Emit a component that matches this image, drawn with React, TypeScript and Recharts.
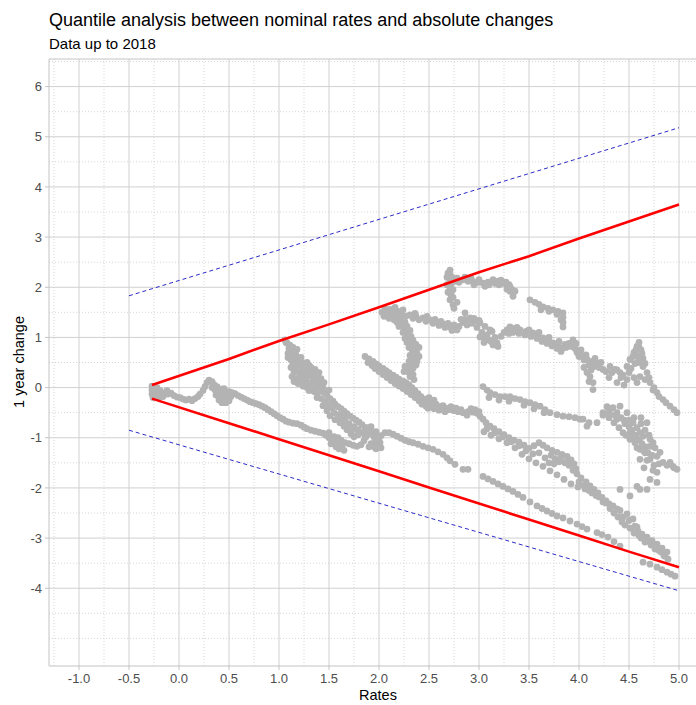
import React from 'react';
import {
  ScatterChart,
  Scatter,
  XAxis,
  YAxis,
  ReferenceLine,
} from 'recharts';

const POINT = '#B3B3B3';
const RED = '#FF0000';
const BLUE = '#2B2BC8';
const GRID = '#D0D0D0';
const MINOR = '#D6D6D6';
const BORDER = '#C4C4C4';
const TICK_TEXT = '#4D4D4D';
const FONT = '"Liberation Sans", Arial, sans-serif';

const xMajor = [-1.0, -0.5, 0.0, 0.5, 1.0, 1.5, 2.0, 2.5, 3.0, 3.5, 4.0, 4.5, 5.0];
const xMinor = [-1.25, -0.75, -0.25, 0.25, 0.75, 1.25, 1.75, 2.25, 2.75, 3.25, 3.75, 4.25, 4.75];
const yMajor = [-4, -3, -2, -1, 0, 1, 2, 3, 4, 5, 6];
const yMinor = [-5, -4.5, -3.5, -2.5, -1.5, -0.5, 0.5, 1.5, 2.5, 3.5, 4.5, 5.5, 6.5];

// quantile lines
const upperQuantile: [number, number][] = [
  [-0.27, 0.05], [0.5, 0.57], [1.0, 0.93], [1.5, 1.26], [2.0, 1.6], [2.5, 1.95],
  [3.0, 2.3], [3.5, 2.62], [4.0, 2.97], [4.5, 3.31], [5.0, 3.65],
];
const lowerQuantile: [number, number][] = [
  [-0.27, -0.22], [0.5, -0.71], [1.0, -1.03], [1.5, -1.35], [2.0, -1.67], [2.5, -1.99],
  [3.0, -2.31], [3.5, -2.63], [4.0, -2.95], [4.5, -3.27], [5.0, -3.58],
];
const upperBand: [number, number][] = [[-0.5, 1.83], [5.0, 5.18]];
const lowerBand: [number, number][] = [[-0.5, -0.85], [5.0, -4.05]];

const originTrail: [number, number][] = [
  [-0.27, 0.03], [-0.27, -0.05], [-0.27, -0.13], [-0.26, -0.2], [-0.24, -0.02], [-0.23, -0.1],
  [-0.21, -0.16], [-0.19, -0.06], [-0.17, -0.12], [-0.14, -0.1], [-0.11, -0.13], [-0.08, -0.11],
  [-0.05, -0.16], [-0.02, -0.19], [0.01, -0.2], [0.04, -0.23], [0.07, -0.25], [0.1, -0.23],
  [0.13, -0.26], [0.16, -0.22], [0.19, -0.18], [0.21, -0.13], [0.24, -0.06], [0.26, 0.02],
  [0.28, 0.1], [0.3, 0.15], [0.33, 0.12], [0.35, 0.06], [0.38, 0.02], [0.36, -0.05],
  [0.39, -0.1], [0.42, -0.03], [0.41, -0.17], [0.44, -0.12], [0.44, -0.24], [0.47, -0.2],
  [0.47, -0.3], [0.5, -0.26], [0.46, -0.07], [0.5, -0.08], [0.53, -0.1], [0.56, -0.12],
  [0.59, -0.16], [0.62, -0.19], [0.65, -0.22], [0.68, -0.25], [0.71, -0.28], [0.74, -0.3],
  [0.77, -0.32], [0.8, -0.34], [0.83, -0.37], [0.86, -0.4], [0.89, -0.44], [0.92, -0.48],
  [0.95, -0.52], [0.98, -0.56], [1.01, -0.6], [1.04, -0.63], [1.07, -0.67], [1.1, -0.69],
  [1.14, -0.71], [1.18, -0.72], [1.22, -0.75], [1.25, -0.79], [1.28, -0.82], [1.32, -0.85],
  [1.36, -0.87], [1.4, -0.89], [1.44, -0.91], [1.47, -0.95], [1.5, -1.0], [1.53, -1.05],
  [1.56, -1.1], [1.59, -1.15], [1.63, -1.18], [1.55, -0.98], [1.59, -1.0], [1.62, -1.05],
  [1.66, -1.1], [1.7, -1.12], [1.74, -1.15], [1.78, -1.17], [1.82, -1.14], [1.85, -1.06],
  [1.87, -0.98], [1.89, -0.9], [1.92, -0.85], [1.94, -0.93], [1.96, -1.02], [1.98, -1.1],
  [2.0, -1.17], [1.92, -1.12], [1.95, -1.18], [2.02, -0.96], [2.06, -0.9], [2.1, -0.9],
  [2.14, -0.93], [2.18, -0.97], [2.22, -1.01], [2.26, -1.05], [2.3, -1.08],
  [0.4, -0.25], [0.43, -0.3], [0.37, -0.15], [0.45, -0.02], [0.48, -0.14], [0.52, -0.18],
  [0.33, 0.0], [-0.22, 0.0], [-0.2, -0.2], [-0.16, -0.18], [-0.12, -0.06],
  [1.5, -0.9], [1.55, -1.05], [1.6, -1.22], [1.65, -1.25], [1.57, -1.18], [1.52, -1.12],
  [1.88, -0.8], [1.92, -0.78], [1.97, -0.88], [2.0, -1.0], [2.02, -1.2], [1.97, -1.22],
  [1.9, -1.18],
];

const steepTrail: [number, number][] = [
  [1.06, 0.95], [1.08, 0.89], [1.11, 0.84], [1.14, 0.8], [1.18, 0.76], [1.12, 0.74],
  [1.09, 0.68], [1.09, 0.6], [1.12, 0.55], [1.16, 0.58], [1.2, 0.5], [1.18, 0.44],
  [1.23, 0.42], [1.27, 0.38], [1.31, 0.35], [1.35, 0.3], [1.38, 0.24], [1.34, 0.2],
  [1.3, 0.24], [1.26, 0.28], [1.22, 0.33], [1.15, 0.3], [1.13, 0.22], [1.15, 0.12],
  [1.19, 0.08], [1.22, 0.14], [1.24, 0.03], [1.28, 0.06], [1.27, 0.15], [1.32, 0.1],
  [1.33, -0.02], [1.37, 0.02], [1.41, 0.04], [1.42, -0.06], [1.45, -0.1], [1.48, -0.16],
  [1.51, -0.22], [1.54, -0.27], [1.56, -0.33], [1.59, -0.38], [1.62, -0.42], [1.65, -0.47],
  [1.68, -0.52], [1.71, -0.57], [1.74, -0.61], [1.77, -0.65], [1.8, -0.69], [1.83, -0.74],
  [1.86, -0.8], [1.89, -0.86], [1.92, -0.92], [1.95, -0.98], [1.98, -1.04], [2.01, -1.1],
  [1.44, -0.36], [1.48, -0.46], [1.51, -0.56], [1.56, -0.64], [1.61, -0.7], [1.65, -0.77],
  [1.68, -0.84], [1.72, -0.92], [1.75, -0.98],
  [1.07, 0.9], [1.1, 0.78], [1.15, 0.7], [1.13, 0.64], [1.17, 0.64], [1.14, 0.48],
  [1.2, 0.56], [1.24, 0.48], [1.26, 0.4], [1.3, 0.44], [1.33, 0.3], [1.21, 0.24],
  [1.25, 0.2], [1.18, 0.18], [1.2, 0.12], [1.28, 0.0], [1.3, -0.06], [1.35, -0.08],
  [1.39, -0.1], [1.38, -0.2], [1.42, -0.22], [1.46, -0.28], [1.49, -0.35], [1.53, -0.4],
  [1.55, -0.5], [1.59, -0.54], [1.62, -0.6], [1.66, -0.65], [1.7, -0.72], [1.75, -0.78],
  [1.79, -0.84], [1.83, -0.9], [1.86, -0.95], [1.79, -0.94], [1.73, -0.85], [1.64, -0.55],
  [1.1, 0.85], [1.16, 0.68], [1.22, 0.6], [1.28, 0.5], [1.32, 0.4], [1.36, 0.36],
  [1.4, 0.3], [1.42, 0.18], [1.45, 0.1], [1.4, 0.12], [1.36, 0.14], [1.24, 0.26],
  [1.18, 0.32], [1.12, 0.4], [1.16, 0.38], [1.44, 0.0], [1.5, -0.05],
];

const verticalTrail: [number, number][] = [
  [2.03, 1.5], [2.07, 1.53], [2.11, 1.56], [2.15, 1.55], [2.19, 1.52], [2.23, 1.48],
  [2.08, 1.45], [2.13, 1.45], [2.17, 1.42], [2.2, 1.36], [2.22, 1.28], [2.25, 1.2],
  [2.27, 1.12], [2.29, 1.04], [2.3, 0.96], [2.31, 0.88], [2.34, 0.82], [2.37, 0.76],
  [2.34, 0.7], [2.31, 0.64], [2.33, 0.57], [2.34, 0.5], [2.31, 0.44], [2.28, 0.37],
  [2.3, 0.3], [2.31, 0.22], [2.35, 0.16],
  [2.05, 1.42], [2.1, 1.38], [2.15, 1.35], [2.18, 1.3], [2.12, 1.5], [2.22, 1.4],
  [2.26, 1.3], [2.28, 1.22], [2.31, 1.14], [2.32, 1.02], [2.34, 0.94], [2.37, 0.86],
  [2.4, 0.8], [2.38, 0.68], [2.36, 0.6], [2.37, 0.45], [2.34, 0.38], [2.26, 0.42],
  [2.25, 0.32], [2.34, 0.26],
  [2.06, 1.57], [2.16, 1.6], [2.24, 1.55], [2.27, 1.42], [2.2, 1.22], [2.24, 1.1],
  [2.26, 0.98], [2.28, 0.9], [2.3, 0.8], [2.33, 0.76], [2.3, 0.52], [2.38, 0.52],
  [2.4, 0.62],
];

const middleTrail: [number, number][] = [
  [1.86, 0.62], [1.9, 0.57], [1.94, 0.52], [1.97, 0.47], [2.0, 0.43], [2.04, 0.38],
  [2.07, 0.34], [2.1, 0.3], [2.14, 0.25], [2.17, 0.21], [2.2, 0.17], [2.24, 0.13],
  [2.27, 0.1], [2.3, 0.06], [2.33, 0.0], [2.36, -0.06], [2.39, -0.12], [2.42, -0.18],
  [2.46, -0.23], [1.96, 0.38], [2.0, 0.32], [2.04, 0.26], [2.08, 0.2], [2.12, 0.14],
  [2.16, 0.08], [2.2, 0.03], [2.24, -0.02], [2.28, -0.08], [2.32, -0.14], [2.36, -0.2],
  [2.4, -0.26], [2.43, -0.33], [2.47, -0.37], [2.5, -0.3], [2.53, -0.36], [2.57, -0.33],
  [2.6, -0.38], [2.64, -0.36], [2.67, -0.41], [2.71, -0.44], [2.75, -0.46], [2.79, -0.48],
  [2.84, -0.5], [2.89, -0.48], [2.94, -0.49], [2.98, -0.51], [3.01, -0.57], [3.04, -0.63],
  [3.07, -0.7], [3.11, -0.77], [3.15, -0.82], [3.2, -0.88], [3.25, -0.94], [3.3, -1.0],
  [3.35, -1.05], [3.4, -1.09], [3.45, -1.15], [3.5, -1.21], [3.55, -1.16], [3.6, -1.1],
  [3.64, -1.15], [3.68, -1.2], [3.73, -1.25], [3.78, -1.29], [3.83, -1.33], [3.88, -1.37],
  [3.92, -1.44], [3.95, -1.52], [3.97, -1.62], [3.98, -1.72], [4.02, -1.8], [4.07, -1.88],
  [4.11, -1.96], [4.15, -2.03], [4.19, -2.1], [4.23, -2.19], [4.27, -2.3], [4.31, -2.41],
  [4.35, -2.5], [4.39, -2.58], [4.43, -2.68], [4.46, -2.74],
  [3.72, -1.35], [3.76, -1.42], [3.8, -1.48], [3.86, -1.5], [3.9, -1.55], [3.75, -1.52],
  [1.89, 0.5], [1.93, 0.44], [1.99, 0.37], [2.03, 0.32], [2.06, 0.28], [2.1, 0.22],
  [2.14, 0.18], [2.18, 0.12], [2.22, 0.07], [2.26, 0.03], [2.3, -0.02], [2.34, -0.08],
  [2.38, -0.15], [2.41, -0.22], [2.45, -0.3], [2.49, -0.41], [2.55, -0.42], [2.6, -0.45],
  [2.66, -0.48], [2.72, -0.38], [2.77, -0.41], [2.82, -0.44], [2.88, -0.55], [2.92, -0.42],
  [2.96, -0.44], [3.0, -0.48], [2.5, -0.2], [2.55, -0.25],
  [3.08, -0.82], [3.16, -0.9], [3.24, -0.98], [3.32, -1.08], [3.4, -1.16], [3.47, -1.26],
  [3.54, -1.32], [3.6, -1.3], [3.66, -1.4], [3.7, -1.5], [3.82, -1.4], [3.88, -1.48],
  [3.94, -1.65], [4.0, -1.88], [4.05, -1.95], [4.1, -2.05], [4.17, -2.15], [4.24, -2.28],
  [4.3, -2.32], [4.38, -2.42], [4.44, -2.58], [4.5, -2.65], [4.52, -2.8], [4.58, -2.78],
  [4.62, -3.0], [4.66, -3.08], [4.72, -3.14], [4.76, -3.22], [4.82, -3.28], [4.86, -3.36],
];

const secondRow: [number, number][] = [
  [3.05, -0.88], [3.12, -0.95], [3.2, -1.02], [3.28, -1.1], [3.36, -1.2], [3.43, -1.33],
  [3.5, -1.42], [3.57, -1.5], [3.64, -1.57], [3.71, -1.66], [3.78, -1.74], [3.85, -1.83],
  [3.92, -1.92], [3.99, -1.98], [4.06, -2.02], [4.13, -2.1], [4.2, -2.18], [4.27, -2.26],
  [4.34, -2.36], [4.41, -2.45], [4.48, -2.52], [4.54, -2.62], [4.56, -2.76], [4.59, -2.86],
  [4.63, -2.92], [4.68, -2.98], [4.73, -3.05], [4.78, -3.12], [4.83, -3.2], [4.88, -3.28],
];

const upperMidTrail: [number, number][] = [
  [2.31, 1.45], [2.37, 1.42], [2.44, 1.39], [2.51, 1.35], [2.58, 1.31], [2.64, 1.27],
  [2.71, 1.21], [2.78, 1.15], [2.84, 1.3], [2.91, 1.39], [2.96, 1.33], [3.01, 1.29],
  [3.06, 1.22], [3.11, 1.15], [3.01, 1.01], [3.06, 0.98], [3.1, 0.95], [3.14, 0.85],
  [3.18, 0.89], [3.19, 0.82], [3.25, 1.1], [3.31, 1.21], [3.36, 1.18], [3.41, 1.15],
  [3.47, 1.12], [3.54, 1.09], [3.59, 1.04], [3.64, 0.99], [3.69, 0.94], [3.74, 0.89],
  [3.79, 0.84], [3.84, 0.79], [3.9, 0.88], [3.94, 0.95], [3.98, 0.7], [4.03, 0.63],
  [4.08, 0.56], [4.13, 0.52], [4.18, 0.49], [4.11, 0.22], [4.12, 0.35], [4.14, -0.04],
  [4.14, 0.1], [4.24, 0.36], [4.31, 0.42], [4.36, 0.36], [4.41, 0.3], [4.51, 0.56],
  [4.55, 0.7], [4.58, 0.82], [4.6, 0.9], [4.61, 0.62], [4.64, 0.42], [4.68, 0.3],
  [4.38, 0.1], [4.48, 0.16], [4.55, 0.2], [4.61, 0.22], [4.66, 0.16], [4.71, 0.1],
  [4.75, 0.0], [4.78, -0.1], [4.84, -0.24], [4.91, -0.37], [4.98, -0.5], [4.95, -0.44],
  [2.34, 1.38], [2.4, 1.35], [2.47, 1.32], [2.54, 1.28], [2.6, 1.24], [2.66, 1.2],
  [2.73, 1.14], [2.8, 1.22], [2.86, 1.36], [2.88, 1.25], [2.93, 1.28], [2.98, 1.2],
  [3.03, 1.1], [3.08, 1.05], [3.05, 0.9], [3.22, 1.02], [3.28, 1.15], [3.34, 1.1],
  [3.4, 1.08], [3.46, 1.05], [3.52, 1.02], [3.58, 0.98], [3.63, 0.92], [3.68, 0.88],
  [3.73, 0.83], [3.78, 0.78], [3.82, 0.72], [3.87, 0.8], [3.92, 0.82], [3.96, 0.78],
  [4.0, 0.62], [4.05, 0.55], [4.1, 0.45], [4.15, 0.42], [4.08, 0.3], [4.1, 0.12],
  [4.2, 0.4], [4.27, 0.32], [4.33, 0.3], [4.44, 0.25], [4.48, 0.42], [4.52, 0.38],
  [4.56, 0.48], [4.58, 0.62], [4.62, 0.75], [4.64, 0.58], [4.66, 0.48], [4.7, 0.2],
  [4.58, 0.1], [4.45, 0.05], [4.42, 0.2], [4.74, -0.05], [4.8, -0.18], [4.87, -0.3],
  [2.36, 1.48], [2.48, 1.42], [2.56, 1.36], [2.62, 1.32], [2.69, 1.28], [2.75, 1.25],
  [2.82, 1.36], [2.9, 1.32], [2.95, 1.38], [3.0, 1.34], [3.13, 1.12], [3.16, 1.0],
  [3.12, 0.92], [3.3, 1.08], [3.38, 1.2], [3.5, 1.15], [3.6, 1.1], [3.7, 1.0],
  [3.8, 0.92], [3.86, 0.86], [3.97, 0.88], [4.02, 0.75], [4.07, 0.65], [4.16, 0.58],
  [4.22, 0.5], [4.05, 0.4], [4.6, 0.8], [4.63, 0.68], [4.57, 0.75], [4.54, 0.62],
  [4.6, 0.5], [4.5, 0.3], [4.38, 0.35], [4.3, 0.2],
];

const topTrail: [number, number][] = [
  [2.71, 2.34], [2.71, 2.25], [2.71, 2.15], [2.72, 2.05], [2.71, 1.95], [2.72, 1.85],
  [2.71, 1.75], [2.74, 1.65], [2.75, 1.58], [2.78, 2.18], [2.84, 2.15], [2.89, 2.12],
  [2.94, 2.11], [2.99, 2.1], [3.04, 2.08], [3.09, 2.1], [3.14, 2.15], [3.19, 2.12],
  [3.24, 2.08], [3.28, 2.04], [3.31, 2.01], [3.33, 1.95], [3.34, 1.89], [3.51, 1.75],
  [3.56, 1.7], [3.6, 1.66], [3.64, 1.61], [3.69, 1.58], [3.74, 1.55], [3.79, 1.52],
  [3.84, 1.49], [3.84, 1.4], [3.84, 1.3], [3.84, 1.21], [2.86, 1.49],
  [2.69, 2.28], [2.73, 2.2], [2.76, 2.12], [2.8, 2.1], [2.95, 2.05], [3.1, 2.05],
  [3.2, 2.05], [3.28, 1.96], [3.31, 1.92], [3.62, 1.55], [3.7, 1.52], [3.78, 1.46],
  [3.82, 1.35],
  [2.68, 2.2], [2.68, 2.05], [2.69, 1.9], [2.74, 1.95], [2.74, 1.8], [2.78, 1.7],
  [2.86, 2.2], [2.92, 2.18], [3.0, 2.15], [3.06, 2.02], [3.16, 2.08], [3.22, 2.14],
  [3.27, 2.1], [3.3, 2.05], [3.36, 1.92], [3.34, 1.82],
];

const rightTrail: [number, number][] = [
  [3.04, 0.02], [3.08, -0.05], [3.11, -0.1], [3.16, -0.14], [3.21, -0.18], [3.26, -0.18],
  [3.31, -0.18], [3.36, -0.22], [3.41, -0.24], [3.46, -0.28], [3.51, -0.3], [3.56, -0.34],
  [3.61, -0.37], [3.66, -0.44], [3.71, -0.5], [3.78, -0.54], [3.84, -0.57], [3.9, -0.58],
  [3.96, -0.6], [4.01, -0.63], [4.04, -0.63], [4.08, -0.77], [4.1, -0.7], [4.18, -0.7],
  [4.24, -0.5], [4.24, -0.55], [4.3, -0.6], [4.31, -0.44], [4.38, -0.5], [4.38, -0.63],
  [4.41, -0.37], [4.48, -0.5], [4.51, -0.9], [4.54, -0.7], [4.58, -0.8], [4.61, -0.9],
  [4.64, -0.97], [4.71, -1.03], [4.71, -1.17], [4.76, -1.2], [4.78, -1.37], [4.81, -1.29],
  [4.84, -1.49], [4.91, -1.49], [4.94, -1.57], [4.98, -1.63], [4.44, -0.9], [4.51, -1.03],
  [4.56, -1.1], [4.61, -1.23], [4.66, -1.3], [4.71, -1.43], [4.75, -1.55], [4.78, -1.69],
  [4.78, -1.89], [4.68, -2.03], [4.58, -1.97], [4.61, -1.43], [4.65, -1.6], [4.71, -1.83],
  [4.61, -2.03], [4.51, -2.16], [4.41, -2.03],
  [4.28, -0.38], [4.34, -0.4], [4.36, -0.55], [4.42, -0.6], [4.46, -0.72], [4.5, -0.78],
  [4.53, -0.85], [4.57, -0.95], [4.6, -1.05], [4.63, -1.12], [4.67, -1.18], [4.69, -1.3],
  [4.73, -1.35], [4.47, -0.95], [4.54, -1.0], [4.62, -0.72], [4.66, -0.85], [4.68, -1.45],
  [4.74, -1.65], [4.8, -1.52], [4.88, -1.55], [4.95, -1.6],
  [3.1, -0.2], [3.2, -0.25], [3.3, -0.27], [3.45, -0.35], [3.55, -0.42], [3.65, -0.5],
  [4.3, -0.5], [4.35, -0.7], [4.4, -0.8], [4.45, -0.65], [4.5, -0.65], [4.55, -0.6],
  [4.58, -1.2], [4.64, -1.25], [4.7, -0.95], [4.74, -1.1], [4.68, -0.7], [4.62, -0.6],
];

const lowestTrail: [number, number][] = [
  [2.34, -1.1], [2.39, -1.13], [2.44, -1.17], [2.49, -1.2], [2.54, -1.23], [2.59, -1.28],
  [2.64, -1.33], [2.68, -1.4], [2.71, -1.46], [2.76, -1.53], [2.84, -1.63], [2.89, -1.63],
  [3.04, -1.77], [3.09, -1.82], [3.14, -1.87], [3.19, -1.92], [3.24, -1.97], [3.29, -2.02],
  [3.34, -2.07], [3.39, -2.13], [3.44, -2.19], [3.51, -2.28], [3.58, -2.36], [3.63, -2.41],
  [3.68, -2.46], [3.73, -2.51], [3.78, -2.56], [3.84, -2.6], [3.91, -2.66], [3.98, -2.72],
  [4.03, -2.77], [4.08, -2.82], [4.18, -2.89], [4.23, -2.93], [4.29, -2.98], [4.35, -3.07],
  [4.41, -3.16], [4.51, -2.8], [4.55, -2.9], [4.6, -2.95], [4.64, -3.0], [4.71, -3.08],
  [4.76, -3.15], [4.8, -3.25], [4.85, -3.35], [4.89, -3.42], [4.64, -3.48], [4.71, -3.52],
  [4.78, -3.58], [4.83, -3.63], [4.88, -3.68], [4.92, -3.72], [4.96, -3.76],
];

const toXY = (pts: [number, number][]) => pts.map(([x, y]) => ({ x, y }));

const observations = toXY([
  ...originTrail,
  ...steepTrail,
  ...verticalTrail,
  ...middleTrail,
  ...secondRow,
  ...upperMidTrail,
  ...topTrail,
  ...rightTrail,
  ...lowestTrail,
]);

const Dot = (props: any) => <circle cx={props.cx} cy={props.cy} r={3.4} fill={POINT} />;
const NoDot = () => <g />;

const tickStyle = { fill: TICK_TEXT, fontSize: 13, fontFamily: FONT };

export default function App() {
  return (
    <div
      style={{
        position: 'fixed',
        left: 0,
        top: 0,
        width: 696,
        height: 705,
        background: '#fff',
        fontFamily: FONT,
      }}
    >
      <ScatterChart width={696} height={705} margin={{ top: 59, right: 0, bottom: 0, left: 0 }}>
        <XAxis
          type="number"
          dataKey="x"
          domain={[-1.3, 5.17]}
          ticks={xMajor}
          interval={0}
          allowDataOverflow
          tickFormatter={(v: number) => v.toFixed(1)}
          tick={tickStyle}
          tickSize={4}
          tickMargin={4}
          stroke={BORDER}
          height={39}
        />
        <YAxis
          type="number"
          dataKey="y"
          domain={[-5.55, 6.55]}
          ticks={yMajor}
          interval={0}
          allowDataOverflow
          tick={tickStyle}
          tickSize={4}
          tickMargin={3}
          stroke={BORDER}
          width={49}
        />
        {yMinor.map((v) => (
          <ReferenceLine key={`ym${v}`} y={v} stroke={MINOR} strokeWidth={1} strokeDasharray="1 2" />
        ))}
        {xMinor.map((v) => (
          <ReferenceLine key={`xm${v}`} x={v} stroke={MINOR} strokeWidth={1} strokeDasharray="1 2" />
        ))}
        {yMajor.map((v) => (
          <ReferenceLine key={`y${v}`} y={v} stroke={GRID} strokeWidth={1} />
        ))}
        {xMajor.map((v) => (
          <ReferenceLine key={`x${v}`} x={v} stroke={GRID} strokeWidth={1} />
        ))}
        <ReferenceLine y={6.55} stroke={BORDER} strokeWidth={1} />
        <Scatter data={observations} shape={Dot} isAnimationActive={false} />
        <Scatter
          data={toXY(upperBand)}
          line={{ stroke: BLUE, strokeWidth: 1, strokeDasharray: '4 3' }}
          shape={NoDot}
          isAnimationActive={false}
        />
        <Scatter
          data={toXY(lowerBand)}
          line={{ stroke: BLUE, strokeWidth: 1, strokeDasharray: '4 3' }}
          shape={NoDot}
          isAnimationActive={false}
        />
        <Scatter
          data={toXY(upperQuantile)}
          line={{ stroke: RED, strokeWidth: 2.6 }}
          shape={NoDot}
          isAnimationActive={false}
        />
        <Scatter
          data={toXY(lowerQuantile)}
          line={{ stroke: RED, strokeWidth: 2.6 }}
          shape={NoDot}
          isAnimationActive={false}
        />
      </ScatterChart>
      <svg
        width={696}
        height={705}
        style={{ position: 'absolute', left: 0, top: 0, pointerEvents: 'none' }}
        fontFamily={FONT}
      >
        <text x={49} y={26} fontSize={18} fill="#000">
          Quantile analysis between nominal rates and absolute changes
        </text>
        <text x={49} y={49} fontSize={15} fill="#000">
          Data up to 2018
        </text>
        <text x={378} y={700} fontSize={14.5} fill="#000" textAnchor="middle">
          Rates
        </text>
        <text
          x={24}
          y={362}
          fontSize={14.5}
          fill="#000"
          textAnchor="middle"
          transform="rotate(-90 24 362)"
        >
          1 year change
        </text>
      </svg>
    </div>
  );
}
